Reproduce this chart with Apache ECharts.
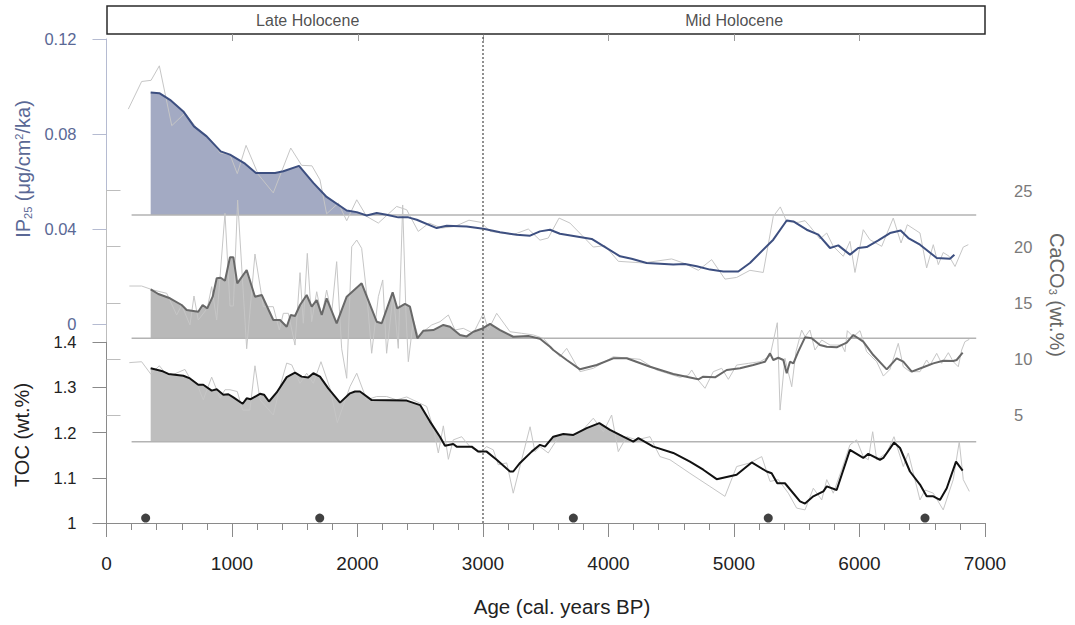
<!DOCTYPE html>
<html><head><meta charset="utf-8">
<script src="https://cdn.jsdelivr.net/npm/echarts@6/dist/echarts.min.js"></script>
<style>html,body{margin:0;padding:0;background:#fff}#c{width:1075px;height:625px}</style>
</head><body><div id="c"></div>
<script>
// ---------------- DATA ----------------
const ageMin = 0, ageMax = 7000, ageStep = 1000;
const periodLabels = [{ age: 1600, name: 'Late Holocene' }, { age: 5000, name: 'Mid Holocene' }];
const periodBoundary = 3000;
const baselineSpan = [200, 6930];
const ip25Base = 0.0459, caco3Base = 11.83, tocBase = 1.18;
const datingAges = [312, 1699, 3720, 5273, 6522];
const datingLevel = 1.011;

const ip25Raw = [[174,0.0905],[280,0.1021],[355,0.1026],[421,0.1087],[520,0.0835],[625,0.0888],[719,0.0825],[817,0.0784],[905,0.0720],[984,0.0713],
[1042,0.0633],[1112,0.0752],[1210,0.0629],[1329,0.0552],[1468,0.0741],[1555,0.0668],[1637,0.0666],[1701,0.0607],[1754,0.0464],[1847,0.0509],
[1914,0.0435],[1994,0.0523],[2073,0.0453],[2166,0.0425],[2312,0.0495],[2392,0.0481],[2484,0.0390],[2570,0.0425],[2671,0.0404],[2777,0.0411],
[2888,0.0437],[2984,0.0428],[3056,0.0390],[3241,0.0376],[3361,0.0400],[3454,0.0353],[3520,0.0362],[3606,0.0446],[3693,0.0425],[3879,0.0324],
[3972,0.0330],[4078,0.0264],[4277,0.0257],[4503,0.0274],[4596,0.0257],[4716,0.0226],[4822,0.0271],[4928,0.0189],[5021,0.0196],[5127,0.0226],
[5233,0.0217],[5313,0.0453],[5369,0.0493],[5420,0.0431],[5512,0.0428],[5566,0.0435],[5605,0.0411],[5685,0.0358],[5739,0.0383],[5791,0.0327],
[5871,0.0285],[5924,0.0348],[5964,0.0217],[6030,0.0397],[6083,0.0355],[6177,0.0327],[6269,0.0446],[6331,0.0341],[6381,0.0418],[6482,0.0383],
[6535,0.0236],[6588,0.0334],[6628,0.0250],[6667,0.0301],[6715,0.0285],[6761,0.0242],[6827,0.0324],[6867,0.0334]];

const ip25Smooth = [[352,0.0975],[421,0.0972],[506,0.0944],[612,0.0895],[697,0.0832],[798,0.0790],[910,0.0727],[984,0.0713],[1104,0.0675],[1191,0.0636],
[1343,0.0636],[1409,0.0643],[1534,0.0666],[1648,0.0594],[1754,0.0535],[1914,0.0478],[1994,0.0471],[2073,0.0457],[2153,0.0467],[2232,0.0460],
[2325,0.0449],[2405,0.0449],[2472,0.0439],[2631,0.0404],[2711,0.0414],[2870,0.0411],[3003,0.0401],[3136,0.0386],[3268,0.0376],[3375,0.0372],
[3454,0.0390],[3534,0.0397],[3613,0.0380],[3866,0.0358],[4092,0.0285],[4184,0.0275],[4304,0.0257],[4516,0.0251],[4609,0.0253],[4703,0.0243],
[4809,0.0229],[4915,0.0221],[5034,0.0221],[5127,0.0257],[5313,0.0355],[5420,0.0436],[5473,0.0432],[5579,0.0397],[5672,0.0376],[5765,0.0320],
[5831,0.0331],[5924,0.0292],[5990,0.0320],[6057,0.0324],[6150,0.0352],[6243,0.0383],[6328,0.0394],[6389,0.0362],[6482,0.0334],[6615,0.0278],
[6721,0.0275],[6756,0.0292]];

const caco3Raw = [[182,16.49],[280,16.49],[373,16.13],[480,15.84],[559,13.91],[599,14.8],[665,13.02],[697,15.6],[731,13.46],[803,14.5],
[838,16.43],[878,13.46],[944,22.97],[984,14.71],[1011,14.71],[1045,24.15],[1117,10.9],[1183,19.34],[1250,14.65],[1329,14.65],
[1377,12.57],[1409,14.06],[1449,14.06],[1502,11.23],[1542,17.68],[1568,13.17],[1600,19.4],[1635,13.31],[1675,15.98],[1715,13.76],
[1754,16.13],[1794,14.06],[1834,18.66],[1874,10.9],[1914,8.27],[1954,19.99],[1994,20.59],[2033,19.85],[2073,15.84],[2113,10.5],
[2166,15.54],[2201,17.03],[2232,10.5],[2285,15.84],[2325,10.94],[2360,23.71],[2386,14.06],[2405,9.75],[2445,13.46],[2484,11.97],
[2524,12.42],[2591,13.02],[2657,13.31],[2724,13.91],[2777,12.57],[2843,12.72],[2923,12.28],[3003,14.06],[3042,12.57],[3109,14.06],
[3215,12.42],[3308,12.28],[3401,12.13],[3480,11.83],[3613,10.19],[3667,10.94],[3773,8.86],[3879,9.16],[4038,10.19],[4251,9.96],
[4384,9.01],[4570,8.36],[4636,8.56],[4663,9.01],[4703,8.27],[4769,7.38],[4835,8.86],[4902,9.16],[4955,8.18],[5021,9.45],
[5114,9.6],[5207,9.75],[5287,10.25],[5345,13.22],[5367,5.44],[5406,10.05],[5460,7.52],[5494,10.64],[5539,12.57],[5566,11.97],
[5605,12.57],[5645,10.79],[5699,11.68],[5765,11.23],[5858,11.23],[5884,10.64],[5903,12.51],[5951,11.97],[6004,12.51],[6057,10.64],
[6137,9.75],[6190,8.47],[6243,9.07],[6309,11.38],[6349,9.3],[6402,8.86],[6482,8.86],[6535,9.9],[6562,9.45],[6615,10.49],
[6655,9.6],[6708,10.55],[6747,9.75],[6787,9.3],[6814,10.79],[6840,11.53],[6875,11.74]];

const caco3Smooth = [[352,16.2],[413,15.78],[506,15.4],[599,14.8],[639,14.35],[731,14.2],[766,14.8],[803,14.5],[846,15.54],[878,17.18],
[910,17.23],[944,16.96],[984,19.05],[1011,19.05],[1042,16.73],[1117,17.92],[1183,15.54],[1237,15.69],[1329,13.46],[1383,13.46],
[1436,12.86],[1468,13.91],[1502,13.82],[1542,14.8],[1595,15.69],[1635,14.65],[1675,15.24],[1715,13.91],[1754,15.4],[1834,13.17],
[1914,15.54],[2033,16.73],[2153,13.31],[2193,13.17],[2280,15.93],[2317,14.5],[2378,14.89],[2418,14.65],[2477,11.83],[2524,12.5],
[2604,12.57],[2684,13.02],[2737,12.86],[2817,12.13],[2870,12.0],[2923,12.42],[2990,12.68],[3056,13.11],[3136,12.57],[3241,11.97],
[3361,12.04],[3454,11.8],[3534,11.08],[3560,10.79],[3667,9.9],[3773,9.07],[3906,9.45],[4038,10.05],[4145,10.05],[4331,9.3],
[4516,8.65],[4716,8.18],[4755,8.41],[4849,8.36],[4942,9.01],[5048,9.16],[5154,9.45],[5247,9.75],[5287,10.49],[5313,9.9],
[5353,10.1],[5393,9.9],[5420,8.71],[5446,9.75],[5473,9.6],[5512,10.64],[5566,11.92],[5619,11.83],[5685,11.23],[5739,11.08],
[5818,11.03],[5898,11.44],[5951,12.13],[6030,11.53],[6110,10.34],[6217,9.07],[6296,10.05],[6349,9.75],[6416,8.86],[6508,9.25],
[6588,9.6],[6667,9.83],[6747,9.81],[6774,9.9],[6822,10.55]];

const tocRaw = [[182,1.355],[280,1.357],[352,1.330],[421,1.348],[493,1.324],[625,1.340],[665,1.320],[719,1.309],[771,1.2725],[838,1.323],
[905,1.276],[944,1.295],[984,1.295],[1042,1.291],[1085,1.250],[1143,1.250],[1183,1.348],[1223,1.2725],[1329,1.239],[1383,1.302],
[1436,1.354],[1476,1.350],[1542,1.309],[1595,1.3315],[1648,1.309],[1709,1.357],[1781,1.298],[1839,1.222],[1940,1.302],[1994,1.3315],
[2073,1.2725],[2153,1.280],[2232,1.280],[2312,1.2725],[2392,1.279],[2551,1.258],[2604,1.210],[2644,1.155],[2684,1.215],[2724,1.141],
[2763,1.184],[2830,1.191],[2896,1.169],[2976,1.155],[3029,1.169],[3082,1.162],[3122,1.129],[3189,1.133],[3241,1.066],[3308,1.140],
[3375,1.213],[3414,1.158],[3454,1.169],[3520,1.155],[3613,1.195],[3693,1.188],[3773,1.199],[3879,1.232],[3959,1.202],[4025,1.239],
[4078,1.158],[4145,1.191],[4224,1.184],[4331,1.191],[4410,1.147],[4490,1.140],[4649,1.110],[4808,1.081],[4928,1.059],[5021,1.125],
[5127,1.133],[5221,1.147],[5287,1.092],[5353,1.096],[5433,1.066],[5499,1.033],[5566,1.029],[5632,1.077],[5699,1.051],[5739,1.096],
[5791,1.066],[5858,1.118],[5924,1.173],[5977,1.184],[6030,1.147],[6070,1.140],[6105,1.202],[6137,1.140],[6217,1.155],[6275,1.191],
[6349,1.125],[6389,1.155],[6482,1.051],[6522,1.073],[6588,1.066],[6667,1.029],[6747,1.096],[6795,1.180],[6827,1.096],[6875,1.070]];

const tocSmooth = [[352,1.3425],[440,1.3366],[493,1.330],[612,1.326],[665,1.320],[731,1.306],[771,1.306],[838,1.293],[878,1.296],[931,1.284],
[971,1.285],[1011,1.278],[1085,1.264],[1117,1.276],[1149,1.274],[1223,1.286],[1255,1.284],[1295,1.269],[1356,1.289],[1436,1.323],
[1502,1.333],[1555,1.324],[1608,1.322],[1648,1.3315],[1701,1.324],[1767,1.298],[1861,1.2665],[1940,1.287],[1980,1.291],[2020,1.291],
[2113,1.272],[2392,1.271],[2499,1.261],[2578,1.2245],[2657,1.191],[2697,1.171],[2763,1.175],[2790,1.169],[2910,1.169],[2963,1.158],
[3029,1.158],[3109,1.140],[3215,1.114],[3241,1.114],[3295,1.133],[3388,1.158],[3454,1.173],[3494,1.169],[3560,1.191],[3640,1.197],
[3720,1.195],[3826,1.210],[3927,1.221],[4012,1.206],[4118,1.191],[4198,1.180],[4238,1.188],[4357,1.169],[4516,1.155],[4649,1.136],
[4755,1.118],[4862,1.097],[5021,1.107],[5141,1.134],[5261,1.114],[5300,1.110],[5345,1.088],[5406,1.088],[5526,1.048],[5566,1.043],
[5632,1.059],[5712,1.070],[5739,1.081],[5818,1.073],[5924,1.162],[6030,1.144],[6070,1.153],[6163,1.140],[6190,1.144],[6275,1.178],
[6323,1.166],[6402,1.114],[6482,1.085],[6535,1.059],[6588,1.059],[6641,1.051],[6695,1.077],[6769,1.136],[6822,1.116]];

// ---------------- HELPERS ----------------
function fillAbove(pts, base) {
  const out = [];
  for (let i = 0; i < pts.length; i++) {
    const [x, y] = pts[i];
    if (i > 0) {
      const [x0, y0] = pts[i - 1];
      if ((y0 - base) * (y - base) < 0) {
        const t = (base - y0) / (y - y0);
        out.push([x0 + t * (x - x0), base]);
      }
    }
    out.push([x, Math.max(y, base)]);
  }
  return out;
}
const FONT = '"Liberation Sans", Arial, Helvetica, sans-serif';
const L = 106.5, R = 90;
const rawColor = '#c6c6c6', baseColor = '#b3b3b3';
const ipText = '#5a6895';

function lineS(xi, yi, data, color, width, extra) {
  return Object.assign({
    type: 'line', xAxisIndex: xi, yAxisIndex: yi, data: data,
    showSymbol: false, symbol: 'none', clip: false, silent: true,
    lineStyle: { color: color, width: width }
  }, extra || {});
}
function fillS(xi, yi, pts, base, color) {
  return lineS(xi, yi, fillAbove(pts, base), color, 0, {
    lineStyle: { width: 0, opacity: 0 },
    areaStyle: { color: color, opacity: 1, origin: base }
  });
}
function baseS(xi, yi, base) {
  return lineS(xi, yi, [[baselineSpan[0], base], [baselineSpan[1], base]], baseColor, 1.5);
}

const hiddenX = (gi) => ({ type: 'value', gridIndex: gi, min: ageMin, max: ageMax, show: false });

const option = {
  animation: false,
  backgroundColor: '#fff',
  grid: [
    { left: L, right: R, top: 39, height: 285 },          // 0 IP25
    { left: L, right: R, top: 190.5, height: 224.5 },     // 1 CaCO3
    { left: L, right: R, top: 342.3, height: 180.7 },     // 2 TOC
    { left: 107, right: R, top: 6, height: 28, show: true, borderColor: '#2a2a2a', borderWidth: 1.5, backgroundColor: 'transparent' }, // 3 box
    { left: L, right: R, top: 34, height: 489 }           // 4 full
  ],
  xAxis: [
    hiddenX(0), hiddenX(1),
    { type: 'value', gridIndex: 2, min: ageMin, max: ageMax, interval: ageStep,
      axisLine: { show: true, lineStyle: { color: '#8a8a8a', width: 1 } },
      axisTick: { show: true, length: 14, lineStyle: { color: '#8a8a8a' } },
      minorTick: { show: true, splitNumber: 5, length: 7, lineStyle: { color: '#8a8a8a' } },
      splitLine: { show: false },
      axisLabel: { fontSize: 19, color: '#222', fontFamily: FONT, margin: 31, formatter: (v) => String(v) } },
    { type: 'value', gridIndex: 3, min: ageMin, max: ageMax, interval: ageStep, position: 'bottom', offset: 2,
      axisLine: { show: false },
      axisTick: { show: true, length: 7, lineStyle: { color: '#9a9a9a' }, customValues: [1000, 2000, 3000, 4000, 5000, 6000] },
      axisLabel: { show: false }, splitLine: { show: false } },
    hiddenX(4)
  ],
  yAxis: [
    { type: 'value', gridIndex: 0, min: 0, max: 0.12, interval: 0.04, position: 'left',
      axisLine: { show: true, lineStyle: { color: '#b5bbd1', width: 1 } },
      axisTick: { show: true, length: 14, lineStyle: { color: '#b5bbd1' } },
      splitLine: { show: false },
      axisLabel: { fontSize: 16.5, color: ipText, fontFamily: FONT, margin: 30 } },
    { type: 'value', gridIndex: 1, min: 5, max: 25, interval: 5, position: 'right',
      axisLine: { show: true, lineStyle: { color: '#bdbdbd', width: 1 } },
      axisTick: { show: true, length: 14, lineStyle: { color: '#bdbdbd' } },
      splitLine: { show: false },
      axisLabel: { fontSize: 16.5, color: '#7a7a7a', fontFamily: FONT, margin: 29 } },
    { type: 'value', gridIndex: 2, min: 1, max: 1.4, interval: 0.1, position: 'left',
      axisLine: { show: true, lineStyle: { color: '#8a8a8a', width: 1 } },
      axisTick: { show: true, length: 14, lineStyle: { color: '#8a8a8a' } },
      splitLine: { show: false },
      axisLabel: { fontSize: 16.5, color: '#222', fontFamily: FONT, margin: 30 } },
    { type: 'value', gridIndex: 3, min: 0, max: 1, show: false },
    { type: 'value', gridIndex: 4, min: 0, max: 1, show: false }
  ],
  series: [
    fillS(0, 0, ip25Smooth, ip25Base, '#a3aac3'),
    fillS(1, 1, caco3Smooth, caco3Base, '#b9b9b9'),
    fillS(2, 2, tocSmooth, tocBase, '#bebebe'),
    baseS(0, 0, ip25Base), baseS(1, 1, caco3Base), baseS(2, 2, tocBase),
    lineS(0, 0, ip25Raw, rawColor, 1),
    lineS(1, 1, caco3Raw, rawColor, 1),
    lineS(2, 2, tocRaw, rawColor, 1),
    lineS(0, 0, ip25Smooth, '#3d4f80', 2),
    lineS(1, 1, caco3Smooth, '#686868', 2),
    lineS(2, 2, tocSmooth, '#111111', 2),
    { type: 'scatter', xAxisIndex: 2, yAxisIndex: 2, data: datingAges.map(a => [a, datingLevel]),
      symbolSize: 9, itemStyle: { color: '#111' }, silent: true },
    lineS(4, 4, [[periodBoundary, 0], [periodBoundary, 1]], '#555', 1.3, { lineStyle: { color: '#555', width: 1.3, type: [2, 2] } }),
    { type: 'scatter', xAxisIndex: 3, yAxisIndex: 3, symbolSize: 1, silent: true,
      itemStyle: { color: 'transparent' },
      data: periodLabels.map(p => ({ value: [p.age, 0.5], name: p.name })),
      label: { show: true, position: 'inside', formatter: '{b}', fontSize: 16, color: '#222', fontFamily: FONT } }
  ],
  graphic: [
    { type: 'text', x: 23, y: 169, rotation: Math.PI / 2, silent: true,
      style: { text: 'IP{sub|25} (μg/cm{sup|2}/ka)', fontSize: 20, fontFamily: FONT, fill: ipText,
        align: 'center', verticalAlign: 'middle', textAlign: 'center', textVerticalAlign: 'middle',
        rich: { sub: { fontSize: 11, fontFamily: FONT, fill: ipText, color: ipText, verticalAlign: 'bottom', lineHeight: 12 },
                sup: { fontSize: 11, fontFamily: FONT, fill: ipText, color: ipText, verticalAlign: 'top', lineHeight: 12 } } } },
    { type: 'text', x: 22, y: 435, rotation: Math.PI / 2, silent: true,
      style: { text: 'TOC (wt.%)', fontSize: 20, fontFamily: FONT, fill: '#222',
        align: 'center', verticalAlign: 'middle', textAlign: 'center', textVerticalAlign: 'middle' } },
    { type: 'text', x: 1057, y: 295, rotation: -Math.PI / 2, silent: true,
      style: { text: 'CaCO{sub|3} (wt.%)', fontSize: 20, fontFamily: FONT, fill: '#666',
        align: 'center', verticalAlign: 'middle', textAlign: 'center', textVerticalAlign: 'middle',
        rich: { sub: { fontSize: 11, fontFamily: FONT, fill: '#666', color: '#666', verticalAlign: 'bottom', lineHeight: 12 } } } },
    { type: 'text', x: 562, y: 606, silent: true,
      style: { text: 'Age (cal. years BP)', fontSize: 20.5, fontFamily: FONT, fill: '#222',
        align: 'center', verticalAlign: 'middle', textAlign: 'center', textVerticalAlign: 'middle' } }
  ]
};

const chart = echarts.init(document.getElementById('c'), null, { renderer: 'svg', width: 1075, height: 625 });
chart.setOption(option);
</script>
</body></html>
